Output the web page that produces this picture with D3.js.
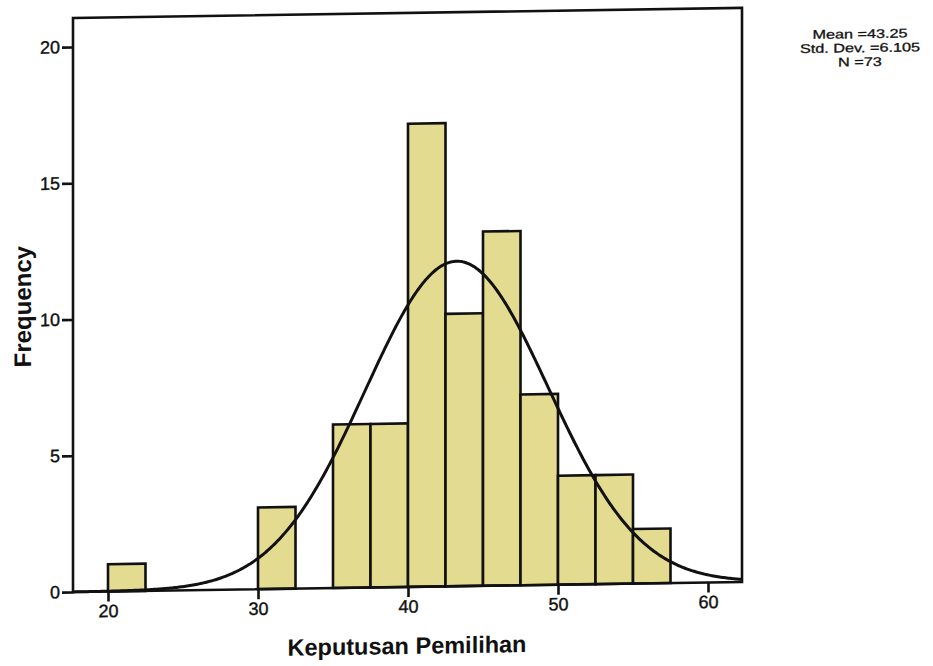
<!DOCTYPE html>
<html>
<head>
<meta charset="utf-8">
<script src="https://cdn.jsdelivr.net/npm/d3@7"></script>
<style>
  body { margin: 0; background: #fff; }
  svg { display: block; }
  text { font-family: "Liberation Sans", Arial, sans-serif; fill: #111; }
</style>
</head>
<body>
<div id="chart"></div>
<script>
// histogram of Keputusan Pemilihan (bin width 2.5)
let binLower = [20, 30, 35, 37.5, 40, 42.5, 45, 47.5, 50, 52.5, 55];
let counts = [1, 3, 6, 6, 17, 10, 13, 7, 4, 4, 2];
let binWidth = 2.5;
let xTicks = [20, 30, 40, 50, 60];
let yTicks = [0, 5, 10, 15, 20];
let statLines = ["Mean =43.25", "Std. Dev. =6.105", "N =73"];
let mean = 43.25, sd = 6.105, n = 73;

let w = 933, h = 666;
let plotLeft = 73, plotRight = 742, plotTop = 18, plotBottom = 592;

let svg = d3.select("#chart").append("svg")
    .attr("width", w)
    .attr("height", h);

// the scanned page is a little tilted (right side higher)
let viz = svg.append("g")
    .attr("transform", "matrix(1,-0.015,0,1,0,1.05)");

let xScale = d3.scaleLinear().domain([20, 60]).range([108, 708]);
let yScale = d3.scaleLinear().domain([0, 20]).range([plotBottom, 47]);

// plot area
viz.append("rect")
    .attr("x", plotLeft)
    .attr("y", plotTop)
    .attr("width", plotRight - plotLeft)
    .attr("height", plotBottom - plotTop)
    .attr("fill", "#fff");

let bars = viz.append("g").attr("class", "bars");
bars.selectAll("rect")
  .data(binLower)
  .enter()
  .append("rect")
    .attr("x", function(d){ return xScale(d); })
    .attr("y", function(d, i){ return yScale(counts[i]); })
    .attr("width", function(d){ return xScale(d + binWidth) - xScale(d); })
    .attr("height", function(d, i){ return yScale(0) - yScale(counts[i]); })
    .attr("fill", "#e3dc90")
    .attr("stroke", "#111")
    .attr("stroke-width", 2.6)
;

// normal curve scaled to the histogram
let xMin = xScale.invert(plotLeft), xMax = xScale.invert(plotRight);
let curvePts = d3.range(xMin, xMax + 0.01, 0.1).map(function(v){
  let z = (v - mean) / sd;
  let y = n * binWidth * Math.exp(-0.5 * z * z) / (sd * Math.sqrt(2 * Math.PI));
  return [xScale(v), yScale(y)];
});
viz.append("path")
    .attr("d", d3.line()(curvePts))
    .attr("fill", "none")
    .attr("stroke", "#111")
    .attr("stroke-width", 3);

// frame
viz.append("rect")
    .attr("x", plotLeft)
    .attr("y", plotTop)
    .attr("width", plotRight - plotLeft)
    .attr("height", plotBottom - plotTop)
    .attr("fill", "none")
    .attr("stroke", "#111")
    .attr("stroke-width", 2.6);

// y axis
let yAxis = d3.axisLeft(yScale).tickValues(yTicks).tickSize(11).tickPadding(2);
let yAxisGroup = viz.append("g")
    .attr("transform", "translate(" + plotLeft + ",0)")
    .call(yAxis);
yAxisGroup.select(".domain").remove();
yAxisGroup.selectAll("line").attr("stroke", "#111").attr("stroke-width", 2.6);
yAxisGroup.selectAll("text")
    .attr("font-size", "18px")
    .attr("font-family", "'Liberation Sans', Arial, sans-serif")
    .attr("fill", "#111")
    .attr("stroke", "#111")
    .attr("stroke-width", 0.4);

// x axis
let xAxis = d3.axisBottom(xScale).tickValues(xTicks).tickSize(10).tickPadding(3);
let xAxisGroup = viz.append("g")
    .attr("transform", "translate(0," + plotBottom + ")")
    .call(xAxis);
xAxisGroup.select(".domain").remove();
xAxisGroup.selectAll("line").attr("stroke", "#111").attr("stroke-width", 2.6);
xAxisGroup.selectAll("text")
    .attr("font-size", "18px")
    .attr("font-family", "'Liberation Sans', Arial, sans-serif")
    .attr("fill", "#111")
    .attr("stroke", "#111")
    .attr("stroke-width", 0.4);

// axis titles
viz.append("text")
    .text("Keputusan Pemilihan")
    .attr("x", 407)
    .attr("y", 659)
    .attr("text-anchor", "middle")
    .attr("font-size", "23.5px")
    .attr("font-weight", "bold");

viz.append("text")
    .text("Frequency")
    .attr("transform", "translate(31,306) rotate(-90)")
    .attr("text-anchor", "middle")
    .attr("font-size", "24px")
    .attr("font-weight", "bold");

// stats box (text is stretched sideways like in the scan)
viz.append("g")
    .attr("transform", "translate(860,0) scale(1.3,1)")
  .selectAll("text")
  .data(statLines)
  .enter()
  .append("text")
    .text(function(d){ return d; })
    .attr("x", 0)
    .attr("y", function(d, i){ return 50 + i * 14; })
    .attr("text-anchor", "middle")
    .attr("font-size", "12.5px")
    .attr("stroke", "#111")
    .attr("stroke-width", 0.3);
</script>
</body>
</html>
